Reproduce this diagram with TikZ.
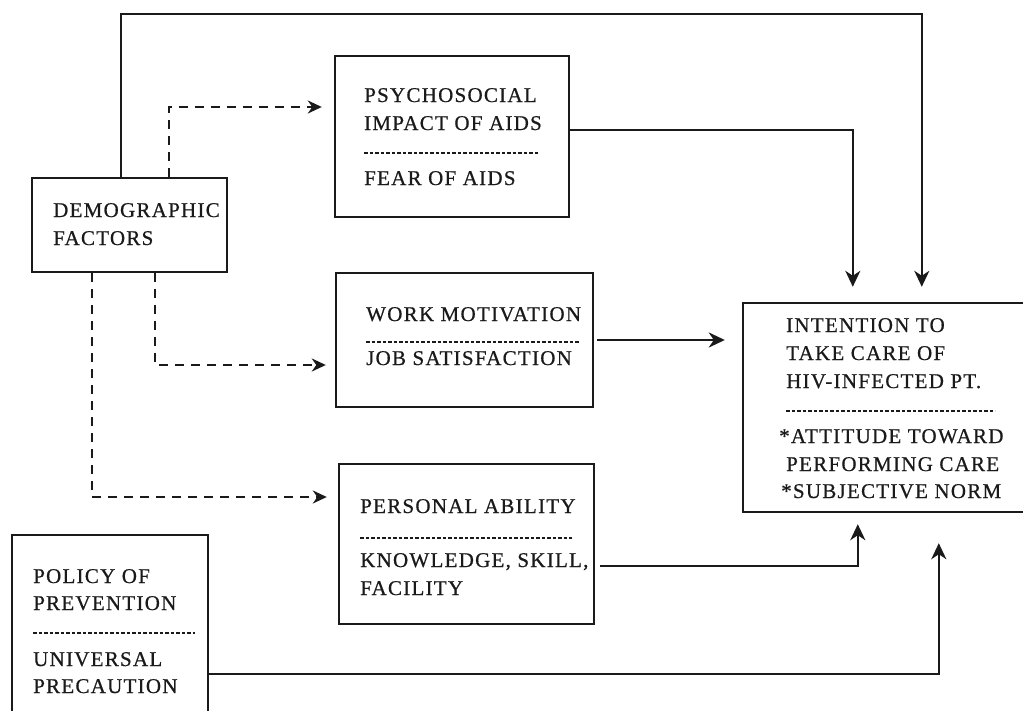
\documentclass[tikz,border=0pt]{standalone}
\usepackage{fontspec}
\setmainfont{Liberation Serif}[LetterSpace=6,FakeBold=0.6]
\usetikzlibrary{arrows.meta,calc}
\definecolor{ink}{HTML}{1A1A1A}
\tikzset{
  boxnode/.style={draw=ink, line width=2.4pt, minimum width=#1, inner sep=0pt},
  txt/.style={anchor=base west, inner sep=0pt, text=ink, font=\fontsize{21}{28}\selectfont},
  sep/.style={draw=ink, line width=1.5pt, dash pattern=on 3.5pt off 2pt},
  arr/.style={draw=ink, line width=2.4pt, -{Stealth[length=16pt,width=15pt,inset=5pt]}},
  darr/.style={draw=ink, line width=2.4pt, dash pattern=on 9pt off 7pt, -{Stealth[length=14pt,width=13pt,inset=4.5pt]}},
}
\begin{document}
\begin{tikzpicture}[x=1pt,y=-1pt]
\useasboundingbox (0,0) rectangle (1023,710);
\fill[white] (0,0) rectangle (1023,710);
% boxes
\node[boxnode=195pt, minimum height=94pt] (demo) at (129.5,225) {};
\node[boxnode=234pt, minimum height=161pt] (psy) at (452,136.5) {};
\node[boxnode=257pt, minimum height=134pt] (work) at (464.5,340) {};
\node[boxnode=292pt, minimum height=209pt] (intent) at (889,407.5) {};
\node[boxnode=255pt, minimum height=160pt] (pers) at (466.5,544) {};
\node[boxnode=196pt, minimum height=195pt] (policy) at (110,632.5) {};
% texts
\node[txt] (t1) at (53,217) {DEMOGRAPHIC};
\node[txt] (t2) at (53,245) {FACTORS};
\node[txt] (t3) at (364,102) {PSYCHOSOCIAL};
\node[txt] (t4) at (364,130) {IMPACT OF AIDS};
\draw[sep] (364,153) -- (538,153);
\node[txt] (t5) at (364,185) {FEAR OF AIDS};
\node[txt] (t6) at (366,321) {WORK MOTIVATION};
\draw[sep] (366,342) -- (580,342);
\node[txt] (t7) at (366,365) {JOB SATISFACTION};
\node[txt] (t8) at (786,332) {INTENTION TO};
\node[txt] (t9) at (786,360) {TAKE CARE OF};
\node[txt] (t10) at (786,388) {HIV-INFECTED PT.};
\draw[sep] (786,411) -- (995,411);
\node[txt] (t11) at (779,443) {*ATTITUDE TOWARD};
\node[txt] (t12) at (786,471) {PERFORMING CARE};
\node[txt] (t13) at (781,498) {*SUBJECTIVE NORM};
\node[txt] (t14) at (360,513) {PERSONAL ABILITY};
\draw[sep] (360,538) -- (572,538);
\node[txt] (t15) at (360,567) {KNOWLEDGE, SKILL,};
\node[txt] (t16) at (360,595) {FACILITY};
\node[txt] (t17) at (33,583) {POLICY OF};
\node[txt] (t18) at (33,610) {PREVENTION};
\draw[sep] (33,633) -- (195,633);
\node[txt] (t19) at (33,666) {UNIVERSAL};
\node[txt] (t20) at (33,693) {PRECAUTION};
% connectors
\coordinate (topL) at (122,14);
\draw[arr, shorten >=15pt] ($(demo.north west)+(90,0)$) |- (topL) -| ($(intent.north west)+(180,0)$);
\draw[arr, shorten >=15pt] ($(psy.east)+(0,-6.5)$) -| ($(intent.north west)+(111,0)$);
\draw[darr, shorten >=12pt] ($(demo.north west)+(138,0)$) |- ($(psy.west)+(0,-29.5)$);
\draw[darr, shorten >=9pt] ($(demo.south west)+(124,0)$) |- ($(work.west)+(0,25)$);
\draw[darr, shorten >=11pt] ($(demo.south west)+(61,0)$) |- ($(pers.west)+(0,-47)$);
\draw[arr, shorten <=3pt, shorten >=17pt] (work.east) -- (work.east -| intent.west);
\draw[arr, shorten <=5pt, shorten >=11pt] ($(pers.east)+(0,22)$) -| ($(intent.south west)+(116,0)$);
\draw[arr, shorten >=30pt] ($(policy.east)+(0,41.5)$) -| ($(intent.south west)+(197,0)$);
\end{tikzpicture}
\end{document}
